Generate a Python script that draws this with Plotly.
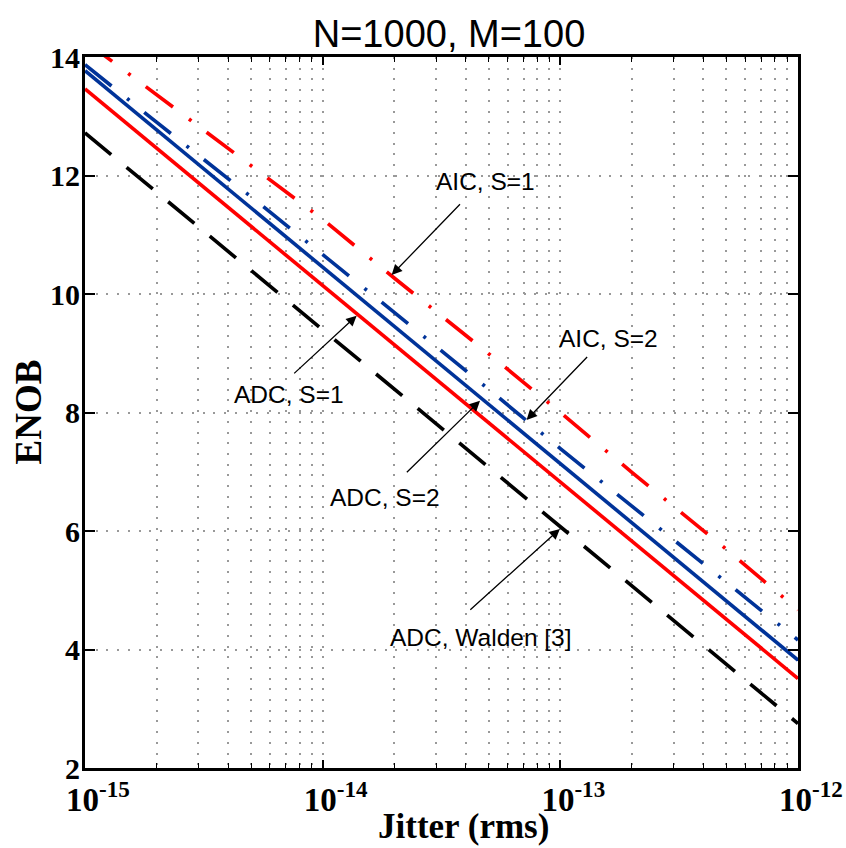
import plotly.graph_objects as go

# ---------------- data ----------------
jitter = [1e-15, 2e-15, 5e-15, 1e-14, 2e-14, 5e-14, 1e-13, 2e-13, 5e-13, 1e-12]

aic_s1 = [14.27, 13.36, 12.17, 11.26, 10.27, 8.99, 8.00, 6.99, 5.69, 4.67]   # red dash-dot
aic_s2 = [13.87, 12.90, 11.64, 10.67, 9.69, 8.39, 7.39, 6.42, 5.14, 4.16]    # blue dash-dot
adc_s1 = [13.77, 12.77, 11.45, 10.45, 9.45, 8.13, 7.14, 6.14, 4.82, 3.82]    # blue solid
adc_s2 = [13.46, 12.46, 11.14, 10.14, 9.14, 7.82, 6.83, 5.83, 4.51, 3.51]    # red solid
walden = [12.72, 11.72, 10.40, 9.40, 8.40, 7.07, 6.07, 5.07, 3.75, 2.75]     # black dashed

x_major = [1e-15, 1e-14, 1e-13, 1e-12]
x_labels = ["10<sup>-15</sup>", "10<sup>-14</sup>", "10<sup>-13</sup>", "10<sup>-12</sup>"]
y_ticks = [2, 4, 6, 8, 10, 12, 14]

title_text = "N=1000, M=100"
x_title = "Jitter (rms)"
y_title = "ENOB"

# label text, text position (log10 x, y), arrow tail (log10 x, y), arrow head (log10 x, y)
labels = [
    ("AIC, S=1", (-13.313, 11.90), (-13.418, 11.531), (-13.710, 10.321)),
    ("ADC, S=1", (-14.142, 8.31), (-14.124, 8.645), (-13.857, 9.634)),
    ("AIC, S=2", (-12.797, 9.25), (-12.883, 8.954), (-13.142, 7.873)),
    ("ADC, S=2", (-13.739, 6.57), (-13.650, 6.974), (-13.338, 8.199)),
    ("ADC, Walden [3]", (-13.334, 4.21), (-13.383, 4.655), (-13.002, 6.034)),
]

RED = "#ff0000"
BLUE = "#003399"
DASHDOT = "34px,20px,3px,19px"
DASHED = "34px,20px"

fig = go.Figure()
series = [
    (walden, "black", DASHED, "ADC, Walden [3]"),
    (adc_s2, RED, "solid", "ADC, S=2"),
    (adc_s1, BLUE, "solid", "ADC, S=1"),
    (aic_s2, BLUE, DASHDOT, "AIC, S=2"),
    (aic_s1, RED, DASHDOT, "AIC, S=1"),
]
for ys, col, dash, name in series:
    fig.add_trace(go.Scatter(x=jitter, y=ys, mode="lines", name=name,
                             line=dict(color=col, width=3.6, dash=dash)))

serif = "Liberation Serif"
sans = "Liberation Sans"

annotations = []
for text, tpos, tail, head in labels:
    annotations.append(dict(x=tpos[0], y=tpos[1], xref="x", yref="y", text=text,
                            showarrow=False, xanchor="center", yanchor="middle",
                            font=dict(family=sans, size=24.5, color="black")))
    # arrow only: a tiny blank text box sits at the tail
    annotations.append(dict(x=head[0], y=head[1], xref="x", yref="y",
                            ax=tail[0], ay=tail[1], axref="x", ayref="y",
                            text="&nbsp;", font=dict(size=2, color="rgba(0,0,0,0)"),
                            borderpad=0, showarrow=True, arrowhead=2, arrowsize=1.6,
                            arrowwidth=1.3, arrowcolor="black", standoff=0, startstandoff=0))

annotations.append(dict(x=(464 - 85) / 713, y=-0.082, xref="paper", yref="paper",
                        text=x_title, showarrow=False, xanchor="center", yanchor="middle",
                        font=dict(family=serif, size=35, color="black", weight="bold")))
annotations.append(dict(x=(28 - 85) / 713, y=0.5, xref="paper", yref="paper",
                        text=y_title, showarrow=False, textangle=-90,
                        xanchor="center", yanchor="middle",
                        font=dict(family=serif, size=37, color="black", weight="bold")))

minor_vals = [m * 10.0 ** e for e in (-15, -14, -13) for m in range(2, 10)]

grid_kw = dict(gridcolor="#999999", gridwidth=1.5, griddash="2px,8.7px")

fig.update_layout(
    width=846, height=848,
    margin=dict(l=85, r=48, t=57, b=80, autoexpand=False),
    paper_bgcolor="white", plot_bgcolor="white",
    showlegend=False,
    title=dict(text=title_text, x=449 / 846, xref="container", xanchor="center",
               y=1 - 34 / 848, yref="container", yanchor="middle", automargin=False,
               font=dict(family=sans, size=38, color="black")),
    annotations=annotations,
    xaxis=dict(type="log", range=[-15, -12], tickmode="array", tickvals=x_major,
               ticktext=x_labels, ticks="inside", ticklen=8, tickwidth=1.5,
               tickcolor="black", showline=True, linecolor="black", linewidth=3,
               mirror="allticks", showgrid=True, zeroline=False, automargin=False,
               ticklabelshift=13, ticklabelstandoff=0,
               tickfont=dict(family=serif, size=33, color="black", weight="bold"),
               minor=dict(tickmode="array", tickvals=minor_vals, ticks="inside",
                          ticklen=5, tickwidth=1.2, tickcolor="black",
                          showgrid=True, **grid_kw),
               **grid_kw),
    yaxis=dict(range=[2, 14], tickmode="array", tickvals=y_ticks,
               ticks="inside", ticklen=10, tickwidth=1.5, tickcolor="black",
               showline=True, linecolor="black", linewidth=3, mirror="allticks",
               showgrid=True, zeroline=False, ticklabelstandoff=-4, automargin=False,
               tickfont=dict(family=serif, size=30, color="black", weight="bold"),
               **grid_kw),
)

fig.write_html("out.html")
